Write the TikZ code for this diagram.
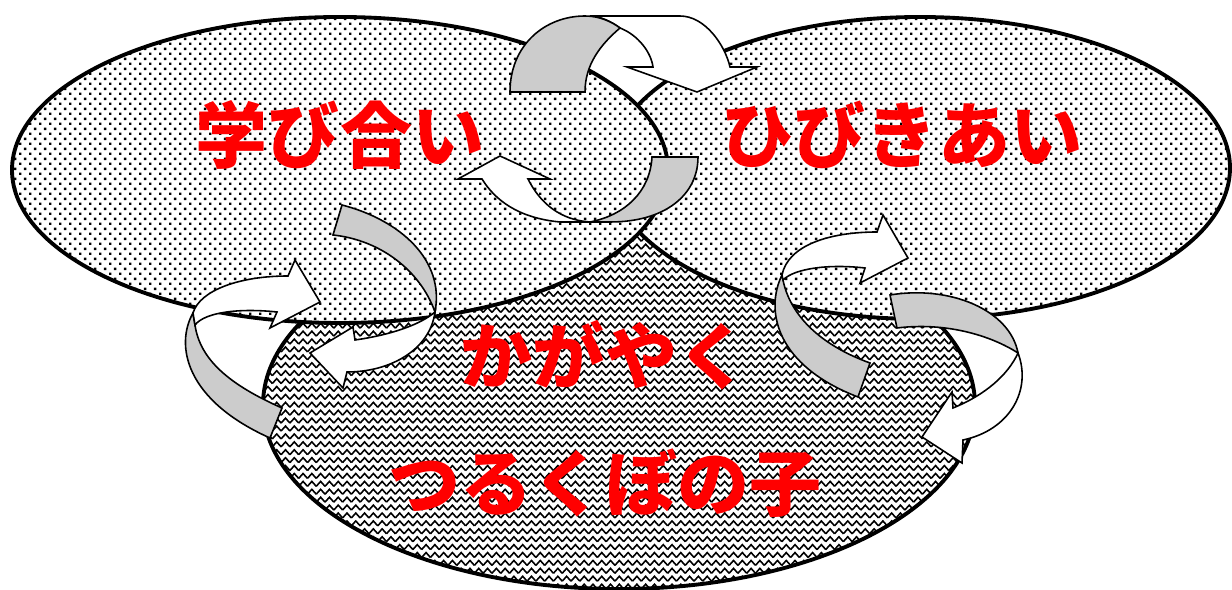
\documentclass[tikz,border=0pt]{standalone}
\usepackage{fontspec}
\newfontfamily\jpfont{Noto Sans CJK JP}
\usetikzlibrary{patterns.meta, positioning}

\tikzdeclarepattern{
  name=halftone,
  type=uncolored,
  bounding box={(0pt,0pt) and (5.6pt,5.6pt)},
  tile size={(5.6pt,5.6pt)},
  code={
    \fill (0pt,0pt) rectangle (1.4pt,1.4pt);
    \fill (2.8pt,2.8pt) rectangle (4.2pt,4.2pt);
  }
}
\tikzdeclarepattern{
  name=zigzag,
  type=uncolored,
  bounding box={(-0.5pt,-0.5pt) and (5.5pt,5pt)},
  tile size={(5pt,4.5pt)},
  code={
    \draw[line width=0.9pt] (0pt,0.5pt) -- (2.5pt,3.3pt) -- (5pt,0.5pt);
  }
}
\definecolor{bandgray}{RGB}{204,204,204}

\begin{document}
\begin{tikzpicture}[x=0.02cm, y=-0.02cm,
  field/.style = {draw, line width=2.2pt, fill=white, postaction={pattern=#1}},
  band/.style = {draw, line width=0.9pt, fill=#1},
  jptext/.style = {text=red, inner sep=0pt,
    font=\jpfont\bfseries\fontsize{41}{41}\selectfont}]
  \useasboundingbox (0,0) rectangle (1232,590);

  \path[field=zigzag] (619,405) ellipse [x radius=356, y radius=184];
  \path[field=halftone] (920,168) ellipse [x radius=310, y radius=151];
  \path[field=halftone] (340,170) ellipse [x radius=328, y radius=153];

  \node[jptext] (manabi) at (340,135) {学び合い};
  \node[jptext] (hibiki) at (902,135) {ひびきあい};
  \node[jptext] (kagayaku) at (605,355) {かがやく};
  \node[jptext, on grid, below=2.56cm of kagayaku] (tsurukubo) {つるくぼの子};

  % top
  \path[band=white] (590,16) -- (680,16) .. controls (705,16) and (725,45) .. (730,67)
    -- (757,67) -- (697,92) -- (627,67) -- (653,67)
    .. controls (651,52) and (638,35) .. (620,28) .. controls (612,22) and (600,16) .. (590,16) -- cycle;
  \path[band=bandgray] (510,92) .. controls (510,45) and (545,16) .. (585,16)
    .. controls (600,16) and (612,22) .. (620,28) .. controls (600,45) and (585,65) .. (585,92) -- cycle;
  \path[band=white] (458,179) -- (500,156) -- (550,179) -- (528,179)
    .. controls (540,203) and (560,220) .. (590,222) -- (560,222)
    .. controls (518,218) and (495,200) .. (482,179) -- cycle;
  \path[band=bandgray] (652,157) -- (698,157) .. controls (698,195) and (665,222) .. (610,222)
    -- (590,222) .. controls (625,215) and (650,192) .. (652,157) -- cycle;

  % left
  \path[band=bandgray] (193,313) .. controls (175,345) and (185,400) .. (270,438) -- (282,408)
    .. controls (230,385) and (200,360) .. (195,325) -- cycle;
  \path[band=white] (193,313) .. controls (200,290) and (240,276) .. (288,276)
    -- (295,260) -- (320,302) -- (270,328) -- (277,312)
    .. controls (240,308) and (205,312) .. (195,325) -- cycle;
  \path[band=bandgray] (333,235) -- (342,205) .. controls (400,220) and (445,260) .. (435,312)
    .. controls (420,270) and (380,240) .. (333,235) -- cycle;
  \path[band=white] (435,312) .. controls (430,350) and (390,372) .. (347,372)
    -- (343,388) -- (310,353) -- (353,327) -- (355,340)
    .. controls (390,335) and (420,325) .. (435,312) -- cycle;

  % right
  \path[band=bandgray] (782,275) .. controls (765,310) and (775,365) .. (858,397) -- (870,363)
    .. controls (820,345) and (790,315) .. (783,280) -- cycle;
  \path[band=white] (782,275) .. controls (788,245) and (830,232) .. (877,232)
    -- (883,215) -- (908,258) -- (860,283) -- (865,268)
    .. controls (830,264) and (795,268) .. (783,280) -- cycle;
  \path[band=bandgray] (890,295) .. controls (950,285) and (1010,310) .. (1018,353)
    .. controls (990,335) and (945,322) .. (897,328) -- cycle;
  \path[band=white] (1018,353) .. controls (1032,390) and (1010,430) .. (963,440)
    -- (962,463) -- (922,437) -- (952,392) -- (953,408)
    .. controls (985,395) and (1008,375) .. (1018,353) -- cycle;
\end{tikzpicture}
\end{document}
